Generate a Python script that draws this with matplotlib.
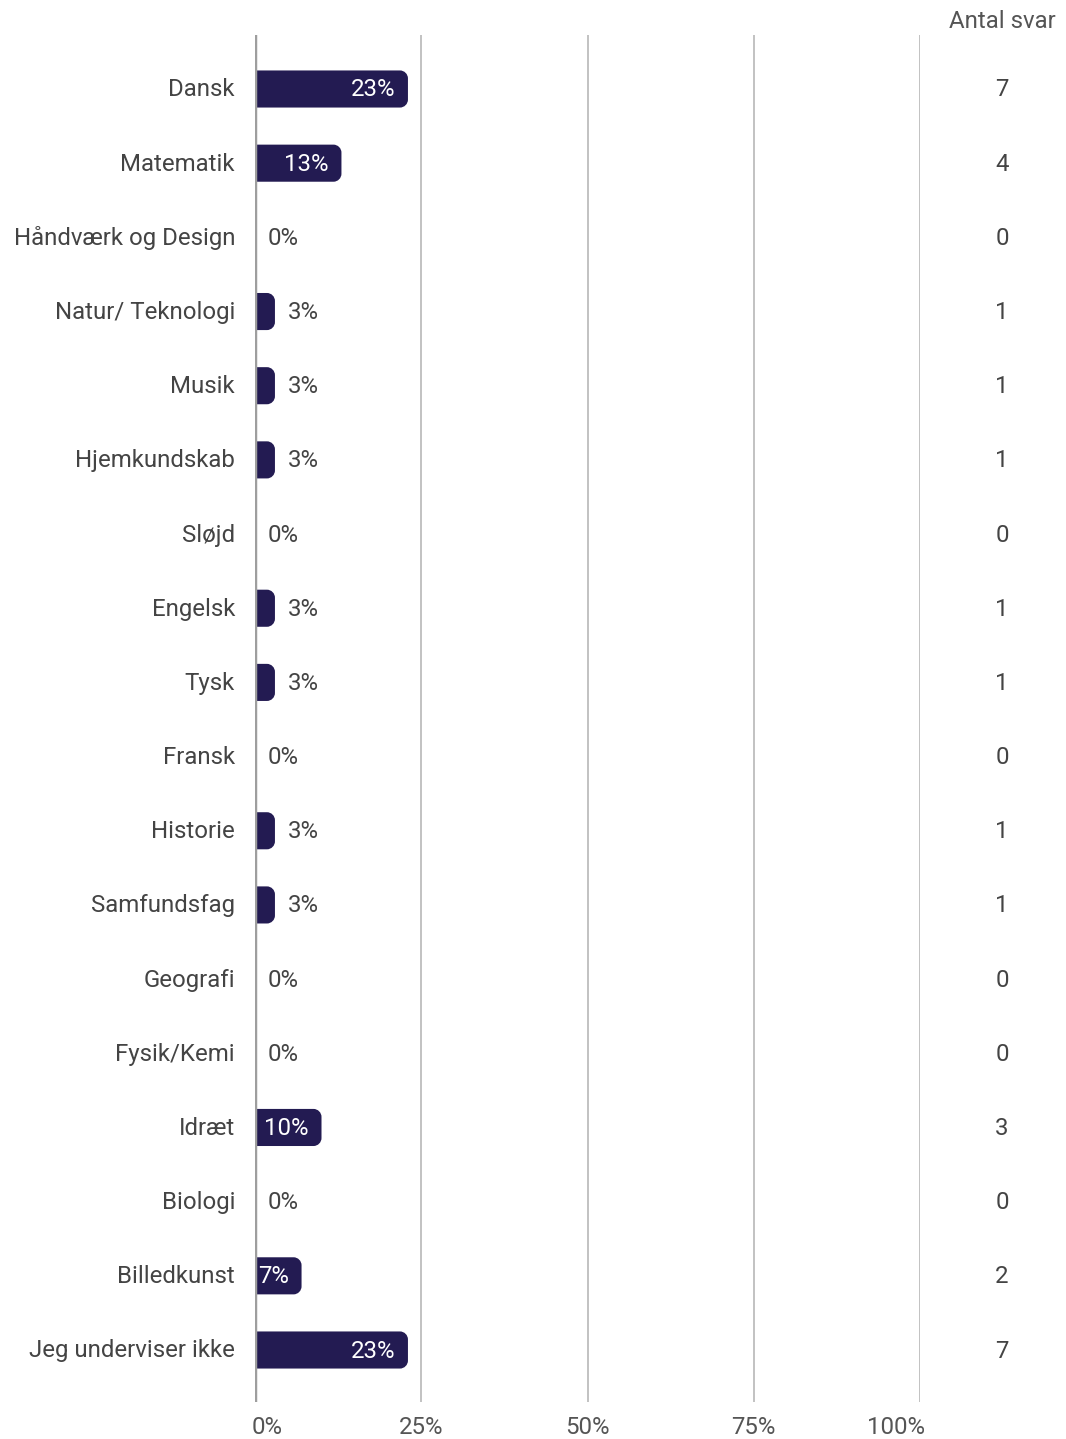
import matplotlib
matplotlib.use("Agg")
import matplotlib.pyplot as plt
from matplotlib.path import Path
from matplotlib.patches import PathPatch
from matplotlib.transforms import blended_transform_factory, offset_copy

plt.rcParams['font.family'] = ['Roboto', 'DejaVu Sans']

categories = ["Dansk", "Matematik", "Håndværk og Design", "Natur/ Teknologi", "Musik",
              "Hjemkundskab", "Sløjd", "Engelsk", "Tysk", "Fransk", "Historie",
              "Samfundsfag", "Geografi", "Fysik/Kemi", "Idræt", "Biologi",
              "Billedkunst", "Jeg underviser ikke"]
counts = [7, 4, 0, 1, 1, 1, 0, 1, 1, 0, 1, 1, 0, 0, 3, 0, 2, 7]
percents = [23, 13, 0, 3, 3, 3, 0, 3, 3, 0, 3, 3, 0, 0, 10, 0, 7, 23]
xticks = [0, 25, 50, 75, 100]
xticklabels = ["0%", "25%", "50%", "75%", "100%"]
count_header = "Antal svar"

W, H = 1066, 1439
fig = plt.figure(figsize=(W / 100, H / 100), dpi=100)
left_px, right_px, top_px, bot_px = 255, 920, 35, 1402
ax = fig.add_axes([left_px / W, 1 - bot_px / H, (right_px - left_px) / W, (bot_px - top_px) / H])

n = len(categories)
row_px = (1350 - 89) / (n - 1)
ax.set_xlim(0, 100)
ax.set_ylim(n - 1 + (bot_px - 1350) / row_px, -(89 - top_px) / row_px)

bar_color = "#231b52"
text_color = "#444444"
xs = (right_px - left_px) / 100.0  # px per unit
r_px = 8
rx = r_px / xs
ry = r_px / row_px
bh = 0.5
k = 0.5523

for i, v in enumerate(percents):
    if v <= 0:
        continue
    y0, y1 = i - bh / 2, i + bh / 2
    x0, x1 = 0, v
    rxx = min(rx, v / 2)
    verts = [(x0, y0), (x1 - rxx, y0),
             (x1 - rxx + k * rxx, y0), (x1, y0 + ry - k * ry), (x1, y0 + ry),
             (x1, y1 - ry),
             (x1, y1 - ry + k * ry), (x1 - rxx + k * rxx, y1), (x1 - rxx, y1),
             (x0, y1), (x0, y0)]
    codes = [Path.MOVETO, Path.LINETO,
             Path.CURVE4, Path.CURVE4, Path.CURVE4,
             Path.LINETO,
             Path.CURVE4, Path.CURVE4, Path.CURVE4,
             Path.LINETO, Path.CLOSEPOLY]
    ax.add_patch(PathPatch(Path(verts, codes), facecolor=bar_color, edgecolor="none", zorder=3))

fs = 17.3
tdata = offset_copy(ax.transData, fig=fig, x=0, y=-1, units="dots")
for i, v in enumerate(percents):
    lab = f"{v:d}%"
    if v >= 5:
        ax.text(v - 13 / xs, i, lab, ha="right", va="center", color="white", fontsize=fs, zorder=4, transform=tdata)
    elif v > 0:
        ax.text(v + 13 / xs, i, lab, ha="left", va="center", color=text_color, fontsize=fs, zorder=4, transform=tdata)
    else:
        ax.text(13 / xs, i, lab, ha="left", va="center", color=text_color, fontsize=fs, zorder=4, transform=tdata)

for x in xticks[1:]:
    ax.axvline(x, color="#bdbdbd", lw=1.3, zorder=1)
ax.axvline(0, color="#9e9e9e", lw=2.5, zorder=5)

for s in ax.spines.values():
    s.set_visible(False)
ax.set_xticks([])
ax.set_yticks([])

trans_lab = offset_copy(blended_transform_factory(fig.transFigure, ax.transData), fig=fig, x=0, y=-1, units="dots")
for i, c in enumerate(categories):
    fig.text(235 / W, i, c, transform=trans_lab, ha="right", va="center", color=text_color, fontsize=fs)
    fig.text(1002 / W, i, str(counts[i]), transform=trans_lab, ha="center", va="center", color=text_color, fontsize=fs)

fig.text(1002 / W, 1 - 22 / H, count_header, ha="center", va="center", color="#555555", fontsize=fs)

trans_tick = blended_transform_factory(ax.transData, fig.transFigure)
has = ["left", "center", "center", "center", "right"]
for x, lab, ha in zip(xticks, xticklabels, has):
    xx = x - 3 / xs if ha == "left" else (x + 5 / xs if ha == "right" else x)
    ax.text(xx, 1 - 1427 / H, lab, transform=trans_tick, ha=ha, va="center", color="#555555", fontsize=fs)

fig.savefig("out.png", dpi=100)
